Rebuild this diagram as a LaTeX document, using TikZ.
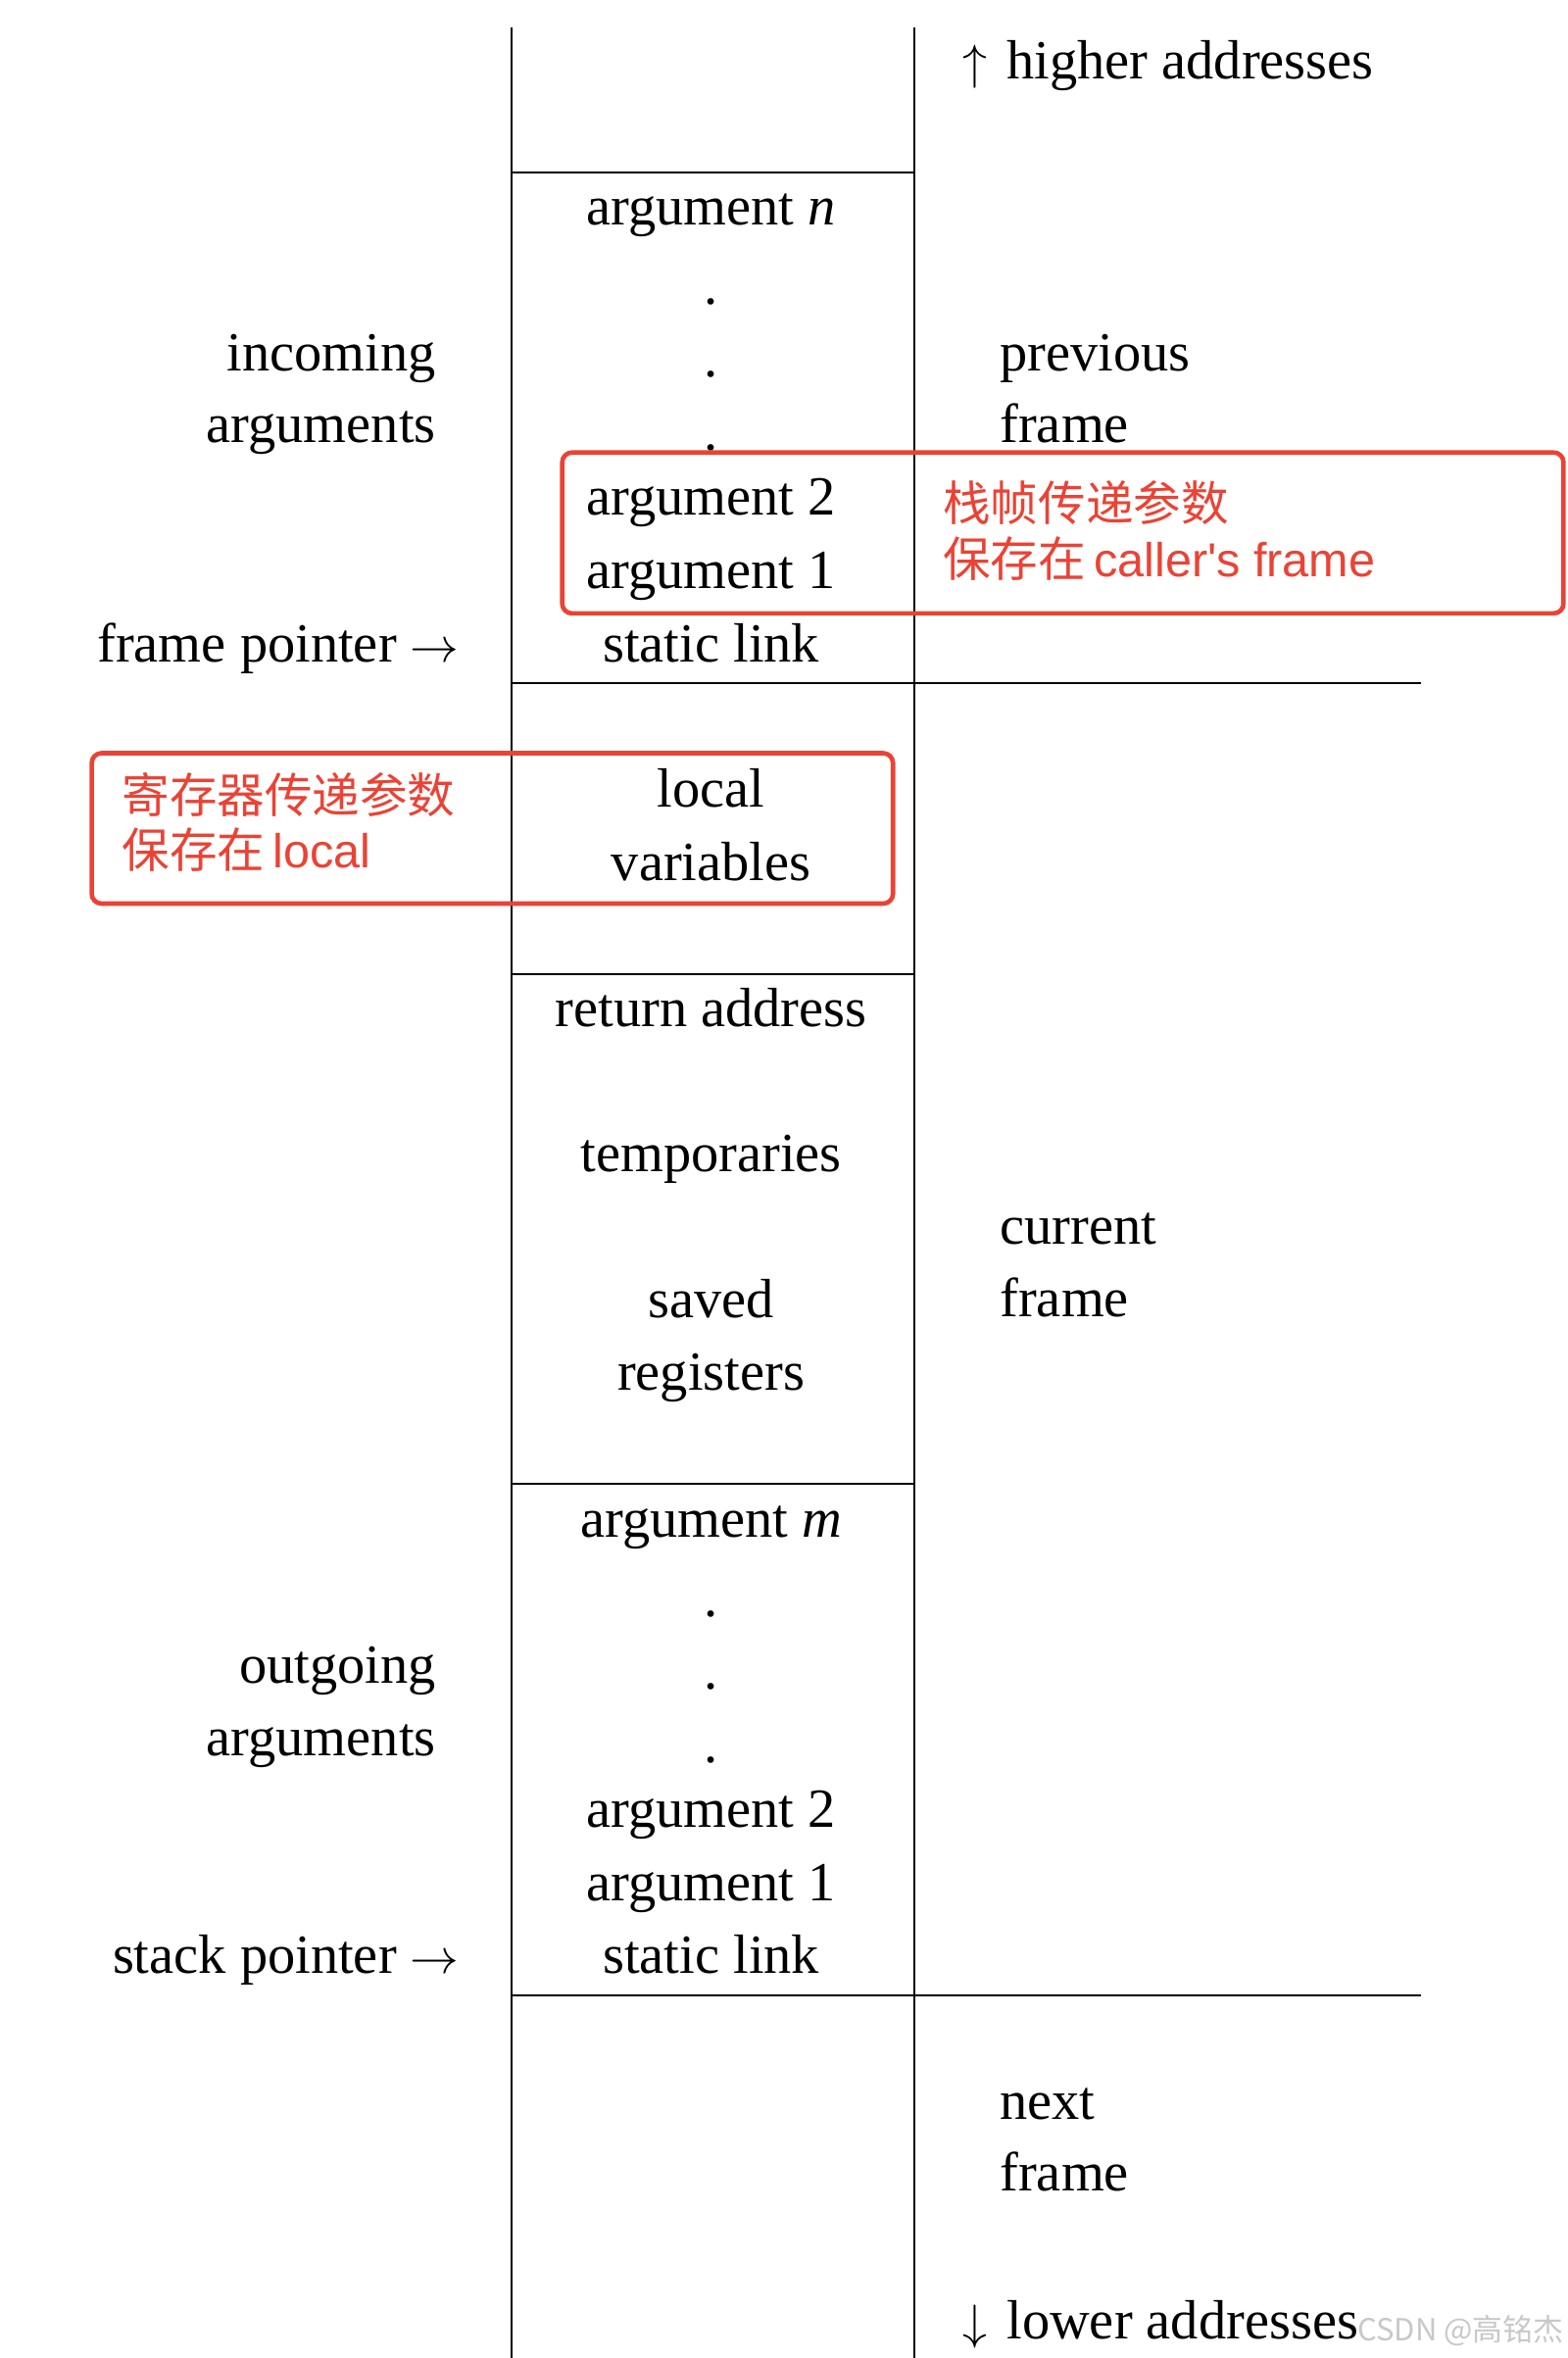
\documentclass[tikz,border=0pt]{standalone}
\usepackage{fontspec}
\setmainfont{Liberation Serif}
\newfontfamily\cjk{Noto Sans CJK SC}
\newfontfamily\latsans{Liberation Sans}
\newcommand{\bigar}[1]{{\fontsize{32}{34}\selectfont$#1$}}
\definecolor{redmark}{RGB}{234,67,53}
\definecolor{wmgray}{RGB}{200,200,200}
\begin{document}
\begin{tikzpicture}[x=0.5pt,y=-0.5pt,
  txt/.style={font=\fontsize{28.2}{34}\selectfont, inner sep=0pt, text height=0.7em, text depth=0.2em, yshift=-7pt},
  mid/.style={txt, anchor=center},
  lft/.style={txt, anchor=east},
  rgt/.style={txt, anchor=west},
  rtxt/.style={font=\cjk\fontsize{24.3}{28}\selectfont, text=redmark, inner sep=0pt, anchor=west, text height=0.8em, text depth=0.2em, yshift=-6.5pt},
  rule/.style={line width=1pt, black},
  rbox/.style={draw=redmark, line width=2.3pt, rounded corners=5pt}]
\useasboundingbox (0,0) rectangle (1600,2406);
\fill[white] (0,0) rectangle (1600,2406);
% stack column
\draw[rule] (521.6,27.6) -- (521.6,2406);
\draw[rule] (932.7,27.6) -- (932.7,2406);
\draw[rule] (521.6,176.4) -- (932.7,176.4);
\draw[rule] (521.6,696.5) -- (1449.6,696.5);
\draw[rule] (521.6,994) -- (932.7,994);
\draw[rule] (521.6,1514) -- (932.7,1514);
\draw[rule] (521.6,2035.6) -- (1449.6,2035.6);
% column texts
\node[mid] (argn) at (725.6,210) {argument \textit{n}};
\node[mid] (d1) at (725.6,291.5) {.};
\node[mid] (d2) at (725.6,365) {.};
\node[mid] (d3) at (725.6,440) {.};
\node[mid] (inarg2) at (725.6,506) {argument 2};
\node[mid] (inarg1) at (725.6,581) {argument 1};
\node[mid] (insl) at (725.6,656.6) {static link};
\node[mid] (local) at (725.6,804) {local};
\node[mid] (vars) at (725.6,879) {variables};
\node[mid] (ret) at (725.6,1028) {return address};
\node[mid] (temps) at (725.6,1176.6) {temporaries};
\node[mid] (saved) at (725.6,1325) {saved};
\node[mid] (regs) at (725.6,1399) {registers};
\node[mid] (argm) at (725.6,1549) {argument \textit{m}};
\node[mid] (e1) at (725.6,1630.6) {.};
\node[mid] (e2) at (725.6,1704) {.};
\node[mid] (e3) at (725.6,1779.4) {.};
\node[mid] (outarg2) at (725.6,1845.4) {argument 2};
\node[mid] (outarg1) at (725.6,1920.6) {argument 1};
\node[mid] (outsl) at (725.6,1994) {static link};
% left labels
\node[lft] (inc1) at (445,359) {incoming};
\node[lft] (inc2) at (445,432.6) {arguments};
\node[lft] (fp) at (469,656.6) {frame pointer \bigar{\rightarrow}};
\node[lft] (out1) at (445,1698) {outgoing};
\node[lft] (out2) at (445,1772) {arguments};
\node[lft] (sp) at (469,1994) {stack pointer \bigar{\rightarrow}};
% right labels
\node[rgt] (hi) at (982,61) {\bigar{\uparrow}\hspace{3pt} higher addresses};
\node[rgt] (prev1) at (1020,359) {previous};
\node[rgt] (prev2) at (1020,432.6) {frame};
\node[rgt] (cur1) at (1020,1250) {current};
\node[rgt] (cur2) at (1020,1324) {frame};
\node[rgt] (next1) at (1020,2143) {next};
\node[rgt] (next2) at (1020,2216.6) {frame};
\node[rgt] (lo) at (982,2367) {\bigar{\downarrow}\hspace{3pt} lower addresses};
\node[font=\cjk\fontsize{15.5}{18}\selectfont, text=wmgray, inner sep=0pt, anchor=west, text height=0.8em, text depth=0.2em, yshift=-3pt] (wm) at (1385,2376) {CSDN @高铭杰};
% red annotations
\draw[rbox] (573.7,461.7) rectangle (1595.4,625.9);
\node[rtxt] (r1a) at (961.8,512) {栈帧传递参数};
\node[rtxt] (r1b) at (961.8,569) {保存在\,{\latsans caller's frame}};
\draw[rbox] (93.6,768.5) rectangle (911.2,922);
\node[rtxt] (r2a) at (124,810) {寄存器传递参数};
\node[rtxt] (r2b) at (124,866.7) {保存在\,{\latsans local}};
\end{tikzpicture}
\end{document}
